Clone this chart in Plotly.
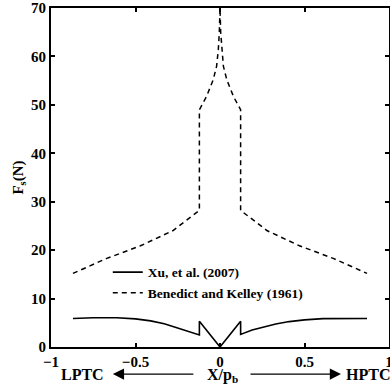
import plotly.graph_objects as go

# Xu, et al. (2007) - solid
xu_x = [-0.87, -0.75, -0.61, -0.5, -0.41, -0.33, -0.26, -0.19, -0.122, -0.122, 0.0,
        0.122, 0.122, 0.19, 0.26, 0.33, 0.41, 0.5, 0.61, 0.75, 0.87]
xu_y = [5.9, 6.05, 6.05, 5.8, 5.4, 4.8, 4.05, 3.3, 2.5, 5.3, 0.0,
        5.3, 2.6, 3.5, 4.2, 4.75, 5.25, 5.6, 5.85, 5.95, 5.9]

# Benedict and Kelley (1961) - dashed
bk_x = [-0.87, -0.67, -0.47, -0.28, -0.122, -0.122, -0.08, -0.04, -0.02, -0.01, -0.004, 0.0,
        0.004, 0.01, 0.02, 0.04, 0.08, 0.122, 0.122, 0.28, 0.47, 0.67, 0.87]
bk_y = [15.2, 18.3, 20.9, 24.0, 28.2, 49.0, 51.7, 55.2, 58.0, 61.4, 65.0, 70.0,
        65.0, 61.4, 58.0, 55.2, 51.7, 49.0, 28.2, 24.0, 20.9, 18.3, 15.2]

x_ticks = [-1, -0.5, 0, 0.5, 1]
x_labels = ["\u22121", "\u22120.5", "0", "0.5", "1"]
y_ticks = [0, 10, 20, 30, 40, 50, 60, 70]
y_labels = ["0", "10", "20", "30", "40", "50", "60", "70"]

FONT = "Liberation Serif"
bold = lambda s: "<b>" + s + "</b>"

fig = go.Figure()
fig.add_trace(go.Scatter(x=xu_x, y=xu_y, mode="lines", name=bold("Xu, et al. (2007)"),
                         line=dict(color="black", width=1.6)))
fig.add_trace(go.Scatter(x=bk_x, y=bk_y, mode="lines", name=bold("Benedict and Kelley (1961)"),
                         line=dict(color="black", width=1.5, dash="5px,4px")))

axis_common = dict(showgrid=False, zeroline=False, showline=True, linecolor="black",
                   linewidth=2, mirror="ticks", ticks="inside", ticklen=4, tickwidth=1.5,
                   tickcolor="black", automargin=False, ticklabeloverflow="allow",
                   tickfont=dict(family=FONT, size=15, color="black"))

fig.update_layout(
    width=390, height=389,
    margin=dict(l=51, r=1, t=8, b=42, autoexpand=False),
    plot_bgcolor="white", paper_bgcolor="white",
    showlegend=True,
    legend=dict(x=0.168, y=0.266, xanchor="left", yanchor="top",
                bgcolor="rgba(0,0,0,0)", borderwidth=0, itemwidth=30,
                font=dict(family=FONT, size=13.5, color="black"),
                tracegroupgap=0),
    xaxis=dict(range=[-1, 1], tickvals=x_ticks, ticktext=[bold(t) for t in x_labels], **axis_common),
    yaxis=dict(range=[0, 70], tickvals=y_ticks, ticktext=[bold(t) for t in y_labels],
               title=dict(text=bold("F<sub>s</sub>(N)"), standoff=4,
                          font=dict(family=FONT, size=15, color="black")),
               **axis_common),
)

# bottom labels and arrows
lab_font = dict(family=FONT, size=16, color="black")
fig.add_annotation(xref="paper", yref="paper", x=0.5085, y=-0.083, text=bold("X/p<sub>b</sub>"),
                   showarrow=False, font=lab_font, xanchor="center", yanchor="middle")
fig.add_annotation(xref="paper", yref="paper", x=0.093, y=-0.08, text=bold("LPTC"),
                   showarrow=False, font=lab_font, xanchor="center", yanchor="middle")
fig.add_annotation(xref="paper", yref="paper", x=0.938, y=-0.08, text=bold("HPTC"),
                   showarrow=False, font=lab_font, xanchor="center", yanchor="middle")
fig.add_annotation(xref="paper", yref="paper", x=0.183, y=-0.08, ax=82, ay=0, text="",
                   showarrow=True, arrowhead=2, arrowsize=1.6, arrowwidth=1.4, arrowcolor="black")
fig.add_annotation(xref="paper", yref="paper", x=0.858, y=-0.08, ax=-92, ay=0, text="",
                   showarrow=True, arrowhead=2, arrowsize=1.6, arrowwidth=1.4, arrowcolor="black")

fig.write_html("out.html", config={"displayModeBar": False},
               post_script="document.body.style.margin='0';")
